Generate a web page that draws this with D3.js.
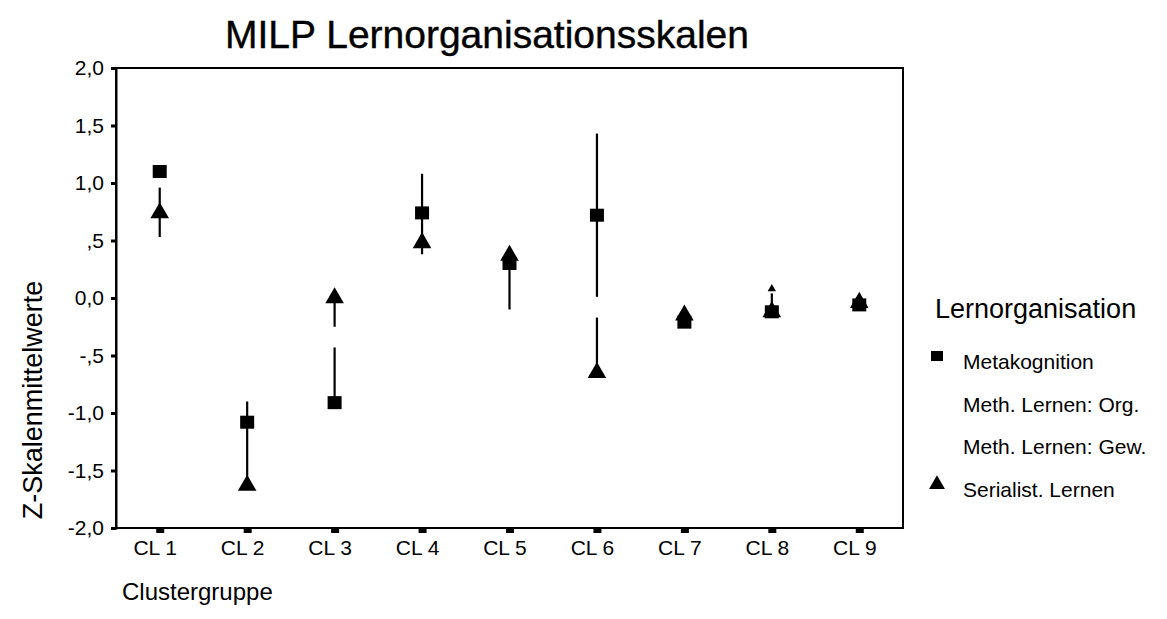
<!DOCTYPE html>
<meta charset="utf-8">
<head>
    <title>MILP Lernorganisationsskalen</title>
    <script type="text/javascript" src="https://cdn.jsdelivr.net/npm/d3@7/dist/d3.min.js"></script>
    <style>
        body { margin: 0; background: #fff; }
        text { font-family: "Liberation Sans", Arial, sans-serif; fill: #000; }
    </style>
</head>
<body>
<div id="chart"></div>
<script>

    // data
    var clusters = ["CL 1", "CL 2", "CL 3", "CL 4", "CL 5", "CL 6", "CL 7", "CL 8", "CL 9"];
    var metakognition = [1.10, -1.08, -0.91, 0.74, 0.30, 0.72, -0.21, -0.12, -0.06];
    var serialist = [0.74, -1.63, 0.00, 0.48, 0.37, -0.65, -0.15, -0.12, -0.04];
    // drop lines (from, to) drawn between the series, some with a gap
    var lineCluster = ["CL 1", "CL 2", "CL 3", "CL 3", "CL 4", "CL 5", "CL 6", "CL 6", "CL 8"];
    var lineFrom = [0.96, -0.90, 0.00, -0.43, 1.08, 0.30, 1.43, -0.17, 0.04];
    var lineTo = [0.53, -1.58, -0.25, -0.91, 0.38, -0.10, 0.01, -0.65, -0.12];
    var tipCluster = ["CL 8"];
    var tipValue = [0.08];
    var yTicks = [2.0, 1.5, 1.0, 0.5, 0.0, -0.5, -1.0, -1.5, -2.0];
    var yTickLabels = ["2,0", "1,5", "1,0", ",5", "0,0", "-,5", "-1,0", "-1,5", "-2,0"];
    var legendNames = ["Metakognition", "Meth. Lernen: Org.", "Meth. Lernen: Gew.", "Serialist. Lernen"];
    var legendSymbols = ["square", null, null, "triangle"];

    var width = 1167;
    var height = 619;
    var margin = {top: 68, right: 264, bottom: 91, left: 116};

    var svg = d3.select("#chart").append("svg")
        .attr("width", width)
        .attr("height", height);

    var x = d3.scalePoint()
        .domain(clusters)
        .range([margin.left, width - margin.right])
        .padding(0.5);

    var y = d3.scaleLinear()
        .domain([-2, 2])
        .range([height - margin.bottom, margin.top]);

    // title
    svg.append("text")
        .attr("x", 487)
        .attr("y", 48)
        .attr("text-anchor", "middle")
        .style("font-size", "39px")
        .style("stroke", "#000")
        .style("stroke-width", 0.4)
        .text("MILP Lernorganisationsskalen");

    // frame
    svg.append("rect")
        .attr("x", margin.left)
        .attr("y", margin.top)
        .attr("width", width - margin.right - margin.left)
        .attr("height", height - margin.bottom - margin.top)
        .attr("fill", "none")
        .attr("stroke", "#000")
        .attr("stroke-width", 2);

    // y axis
    var yAxis = d3.axisLeft(y)
        .tickValues(yTicks)
        .tickFormat(function(d, i) { return yTickLabels[i]; })
        .tickSize(5)
        .tickPadding(7);
    var gy = svg.append("g")
        .attr("transform", "translate(" + margin.left + ",0)")
        .call(yAxis);
    gy.select(".domain").attr("stroke-width", 2);
    gy.selectAll(".tick line").attr("stroke-width", 3);
    gy.selectAll(".tick text")
        .style("font-size", "21px")
        .style("font-family", "Liberation Sans, Arial, sans-serif");

    // x axis
    var xAxis = d3.axisBottom(x).tickSize(0).tickPadding(12);
    var gx = svg.append("g")
        .attr("transform", "translate(0," + (height - margin.bottom) + ")")
        .call(xAxis);
    gx.select(".domain").remove();
    gx.selectAll(".tick text")
        .attr("dx", -5)
        .style("font-size", "21px")
        .style("font-family", "Liberation Sans, Arial, sans-serif");
    gx.selectAll(".tick").append("rect")
        .attr("x", -4)
        .attr("y", 1)
        .attr("width", 8)
        .attr("height", 4)
        .attr("fill", "#000");

    // axis titles
    svg.append("text")
        .attr("transform", "translate(42,400) rotate(-90)")
        .attr("text-anchor", "middle")
        .style("font-size", "27px")
        .text("Z-Skalenmittelwerte");

    svg.append("text")
        .attr("x", 122)
        .attr("y", 600)
        .style("font-size", "24px")
        .text("Clustergruppe");

    // drop lines
    svg.append("g").selectAll("line")
        .data(lineCluster)
        .enter().append("line")
        .attr("x1", function(d) { return x(d); })
        .attr("x2", function(d) { return x(d); })
        .attr("y1", function(d, i) { return y(lineFrom[i]); })
        .attr("y2", function(d, i) { return y(lineTo[i]); })
        .attr("stroke", "#000")
        .attr("stroke-width", 2.2);

    svg.append("g").selectAll("path")
        .data(tipCluster)
        .enter().append("path")
        .attr("d", d3.symbol().type(d3.symbolTriangle).size(30))
        .attr("transform", function(d, i) { return "translate(" + x(d) + "," + y(tipValue[i]) + ")"; })
        .attr("fill", "#000");

    // serialist triangles
    var tri = d3.symbol().type(d3.symbolTriangle).size(150);
    svg.append("g").selectAll("path")
        .data(clusters)
        .enter().append("path")
        .attr("d", tri)
        .attr("transform", function(d, i) { return "translate(" + x(d) + "," + y(serialist[i]) + ")"; })
        .attr("fill", "#000");

    // metakognition squares
    svg.append("g").selectAll("rect")
        .data(clusters)
        .enter().append("rect")
        .attr("x", function(d) { return x(d) - 7; })
        .attr("y", function(d, i) { return y(metakognition[i]) - 6.5; })
        .attr("width", 14)
        .attr("height", 13)
        .attr("fill", "#000");

    // legend
    var legend = svg.append("g").attr("transform", "translate(935,0)");
    legend.append("text")
        .attr("x", 0)
        .attr("y", 318)
        .style("font-size", "27px")
        .text("Lernorganisation");

    var items = legend.selectAll("g.item")
        .data(legendNames)
        .enter().append("g")
        .attr("class", "item")
        .attr("transform", function(d, i) { return "translate(0," + (362 + i * 42.5) + ")"; });

    items.append("text")
        .attr("x", 28)
        .attr("y", 7)
        .style("font-size", "21px")
        .text(function(d) { return d; });

    items.filter(function(d, i) { return legendSymbols[i] == "square"; })
        .append("rect")
        .attr("x", -4)
        .attr("y", -11)
        .attr("width", 12)
        .attr("height", 10)
        .attr("fill", "#000");

    items.filter(function(d, i) { return legendSymbols[i] == "triangle"; })
        .append("path")
        .attr("d", d3.symbol().type(d3.symbolTriangle).size(110))
        .attr("transform", "translate(2,-5)")
        .attr("fill", "#000");

</script>
</body>
</html>
